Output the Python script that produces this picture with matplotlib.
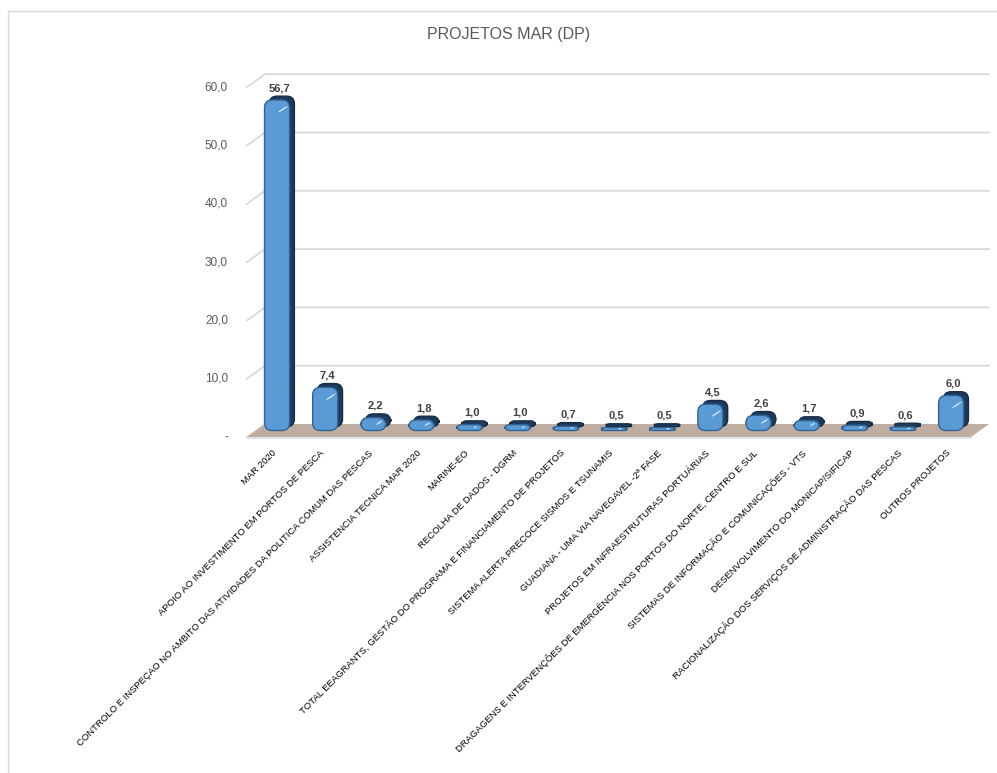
import matplotlib
matplotlib.use("Agg")
import matplotlib.pyplot as plt
from matplotlib.patches import FancyBboxPatch, Polygon, Ellipse
from matplotlib.lines import Line2D
from matplotlib.transforms import offset_copy

# Dados
projetos = [
    "MAR 2020",
    "APOIO AO INVESTIMENTO EM PORTOS DE PESCA",
    "CONTROLO E INSPEÇAO NO AMBITO DAS ATIVIDADES DA POLITICA COMUM DAS PESCAS",
    "ASSISTENCIA TECNICA MAR 2020",
    "MARINE-EO",
    "RECOLHA DE DADOS - DGRM",
    "TOTAL EEAGRANTS, GESTÃO DO PROGRAMA E FINANCIAMENTO DE PROJETOS",
    "SISTEMA ALERTA PRECOCE SISMOS E TSUNAMIS",
    "GUADIANA - UMA VIA NAVEGAVEL -2ª FASE",
    "PROJETOS EM INFRAESTRUTURAS PORTUÁRIAS",
    "DRAGAGENS E INTERVENÇÕES DE EMERGÊNCIA NOS PORTOS DO NORTE, CENTRO E SUL",
    "SISTEMAS DE INFORMAÇÃO E COMUNICAÇÕES - VTS",
    "DESENVOLVIMENTO DO MONICAP/SIFICAP",
    "RACIONALIZAÇÃO DOS SERVIÇOS DE ADMINISTRAÇÃO DAS PESCAS",
    "OUTROS PROJETOS",
]
valores = [56.7, 7.4, 2.2, 1.8, 1.0, 1.0, 0.7, 0.5, 0.5, 4.5, 2.6, 1.7, 0.9, 0.6, 6.0]
yticks = [0, 10, 20, 30, 40, 50, 60]
ytick_labels = ["-", "10,0", "20,0", "30,0", "40,0", "50,0", "60,0"]

W, H = 997, 773
fig = plt.figure(figsize=(W / 100, H / 100), dpi=100)
fig.patch.set_facecolor("white")

# moldura do grafico (só topo e esquerda visíveis)
fig.lines.append(Line2D([7.5 / W, 7.5 / W, 1], [0, 1 - 10.5 / H, 1 - 10.5 / H],
                        transform=fig.transFigure, color="#d9d9d9", lw=1))

ax = fig.add_axes([256 / W, 342.5 / H, 724 / W, 349.8 / H])
xl, xr = -0.457, 14.58
ax.set_xlim(xl, xr)
ax.set_ylim(0, 60)
ax.axis("off")

# profundidade 3D (em unidades de dados)
dx, dy = 0.187, 1.115
aspecto = (724 / (xr - xl)) / (349.8 / 60)

# chão
chao = Polygon([(xl - dx, -dy), (xr - dx, -dy), (xr + dx, dy), (xl + dx, dy)],
               closed=True, facecolor="#bfada2", edgecolor="none", clip_on=False, zorder=1)
ax.add_patch(chao)
ax.plot([xl - dx, xr - dx], [-dy - 0.2, -dy - 0.2], color="#dde4ec", lw=1.5,
        clip_on=False, zorder=1)

# grelha
for v in yticks[1:]:
    ax.plot([xl - dx, xl + dx, xr + dx], [v - dy, v + dy, v + dy],
            color="#d9d9d9", lw=1.3, clip_on=False, zorder=0)
ax.plot([xl - dx, xl + dx], [-dy, dy], color="#d9d9d9", lw=1.0, clip_on=False, zorder=0)

# rótulos do eixo y
trans_y = offset_copy(ax.transData, fig=fig, x=-19, y=0, units="dots")
for v, lab in zip(yticks, ytick_labels):
    ax.text(xl - dx, v - dy, lab, transform=trans_y, ha="right", va="center",
            fontsize=8.5, color="#595959", family="Liberation Sans")

# barras
larg = 0.52
sx, sy = 0.1, 0.65
for i, v in enumerate(valores):
    x0 = i - larg / 2 - 0.02
    r = min(0.16, v / aspecto / 2 + 0.03)
    sombra = FancyBboxPatch((x0 + sx, sy), larg, v,
                            boxstyle=f"round,pad=0,rounding_size={r}",
                            mutation_aspect=aspecto, facecolor="#1d3a5c",
                            edgecolor="#152c47", lw=1, clip_on=False, zorder=3)
    ax.add_patch(sombra)
    face = FancyBboxPatch((x0, 0), larg, v,
                          boxstyle=f"round,pad=0,rounding_size={r}",
                          mutation_aspect=aspecto, facecolor="#5b9bd5",
                          edgecolor="#2e6394", lw=1, clip_on=False, zorder=4)
    ax.add_patch(face)
    hy = v - 1.6 if v > 4 else v * 0.6
    ax.add_patch(Ellipse((i + 0.1, hy), 0.05, min(1.1, max(v * 0.3, 0.3)), angle=-10,
                         facecolor="white", edgecolor="none", alpha=0.8,
                         clip_on=False, zorder=5))
    ax.text(i + 0.03, v + sy + 0.5, f"{v:.1f}".replace(".", ","), ha="center", va="bottom",
            fontsize=8, fontweight="bold", color="#404040", family="Liberation Sans", zorder=6)

# rótulos do eixo x
trans_x = offset_copy(ax.transData, fig=fig, x=-3, y=-21, units="dots")
for i, lab in enumerate(projetos):
    ax.text(i, 0, lab, transform=trans_x, rotation=45, rotation_mode="anchor",
            ha="right", va="center", fontsize=6.8,
            family=["Liberation Sans Narrow", "Liberation Sans"], color="black")

fig.text(509 / W, 1 - 35 / H, "PROJETOS MAR (DP)", ha="center", va="center",
         fontsize=11.5, color="#595959", family="Liberation Sans")

fig.savefig("out.png", dpi=100)
